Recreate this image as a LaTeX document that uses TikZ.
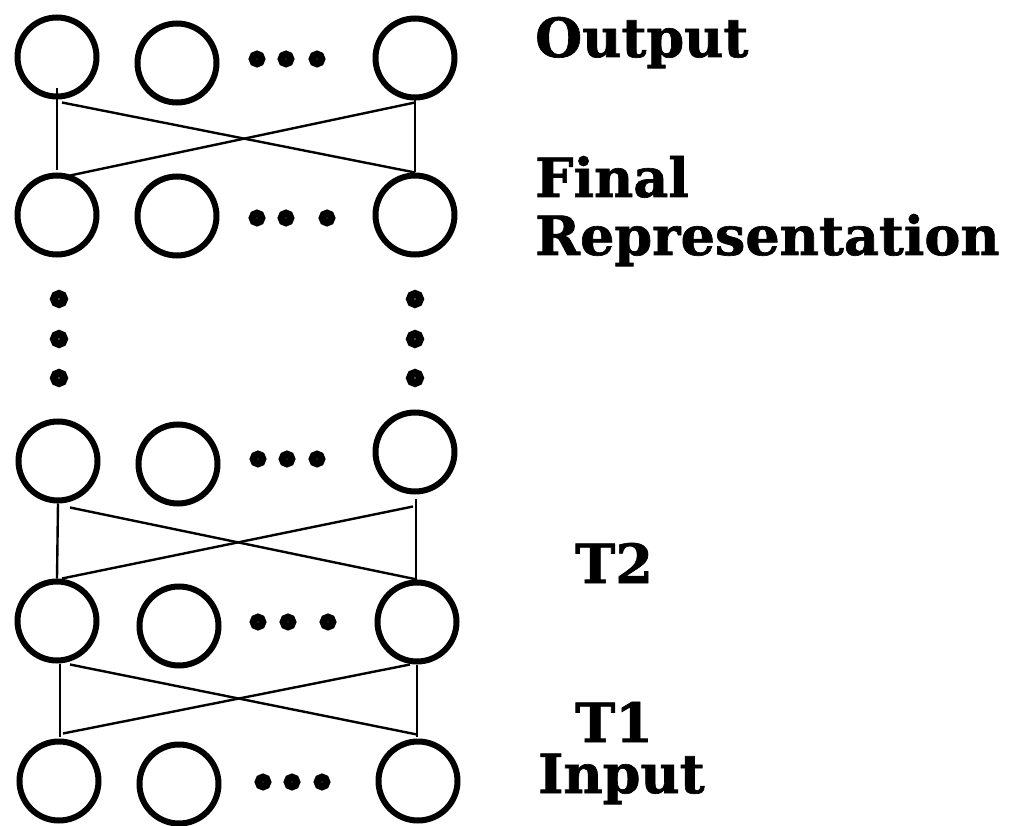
\documentclass[tikz,border=0pt]{standalone}
\usepackage{fontspec}
\newfontfamily\labelfont[BoldFeatures={FakeBold=1.2}]{DejaVu Serif}
\usetikzlibrary{calc}
\begin{document}
\begin{tikzpicture}[x=1pt,y=-1pt,
  unit/.style={circle,draw,line width=6pt,inner sep=0pt,minimum size=79pt},
  link/.style={line width=2.4pt},
  ell/.style={line width=7.5pt},
  lab/.style={anchor=base west,inner sep=0pt,font=\labelfont\bfseries\fontsize{54}{58}\selectfont}]
\useasboundingbox (0,0) rectangle (1009,826);

% layer of units, top to bottom
\node[unit] (o1) at (57,57) {};
\node[unit] (o2) at (177,63) {};
\node[unit] (o3) at (415,58) {};

\node[unit] (f1) at (57,215) {};
\node[unit] (f2) at (177,216) {};
\node[unit] (f3) at (415,215) {};

\node[unit] (r1) at (58,461) {};
\node[unit] (r2) at (178,464) {};
\node[unit] (r3) at (415,452) {};

\node[unit] (m1) at (57,621) {};
\node[unit] (m2) at (179,626) {};
\node[unit] (m3) at (417,622) {};

\node[unit] (b1) at (59,781) {};
\node[unit] (b2) at (179,784) {};
\node[unit] (b3) at (418,781) {};

% horizontal ellipses
\foreach \x/\y in {257/59,286/59,317/59,
                   257/218,286/218,327/218,
                   258/459,287/459,317/459,
                   258/622,288/622,328/622,
                   263/782,292/782,322/782}
  \draw[ell] (\x,\y) circle (4.6);

% vertical ellipses
\foreach \x in {59,415}
  \foreach \y in {299,339,378}
    \draw[ell,line width=8pt] (\x,\y) circle (5);

% output <-> final representation
\draw[link] ([yshift=11pt]o1.south) -- ([yshift=2pt]f1.north);
\draw[link] ([xshift=5pt,yshift=-3pt]o1.south) -- (f3.north);
\draw[link] ([xshift=13pt,yshift=-3pt]f1.north) -- ([yshift=-2pt]o3.south);
\draw[link] (o3.south) -- (f3.north);

% T2
\draw[link] (r1.south) -- (m1.north);
\draw[link] ([xshift=12pt,yshift=-4pt]r1.south) -- (m3.north);
\draw[link] ([xshift=5pt]m1.north) -- ([xshift=-2pt,yshift=-12pt]r3.south);
\draw[link] ([xshift=1pt,yshift=-4pt]r3.south) -- ([xshift=-1pt]m3.north);

% T1
\draw[link] ([xshift=3pt]m1.south) -- ([xshift=1pt,yshift=2pt]b1.north);
\draw[link] ([xshift=13pt,yshift=-1pt]m1.south) -- ([xshift=-1pt,yshift=4pt]b3.north);
\draw[link] ([xshift=4pt,yshift=5pt]b1.north) -- ([xshift=-7pt]m3.south);
\draw[link] (m3.south) -- ([xshift=-1pt,yshift=2pt]b3.north);

% labels
\node[lab] (lout) at (535,57) {Output};
\node[lab] (lfin) at (535,197) {Final};
\node[lab] (lrep) at (535,255) {Representation};
\node[lab] (lt2) at (575,583) {T2};
\node[lab] (lt1) at (575,742) {T1};
\node[lab] (lin) at (538,793) {Input};
\end{tikzpicture}
\end{document}
